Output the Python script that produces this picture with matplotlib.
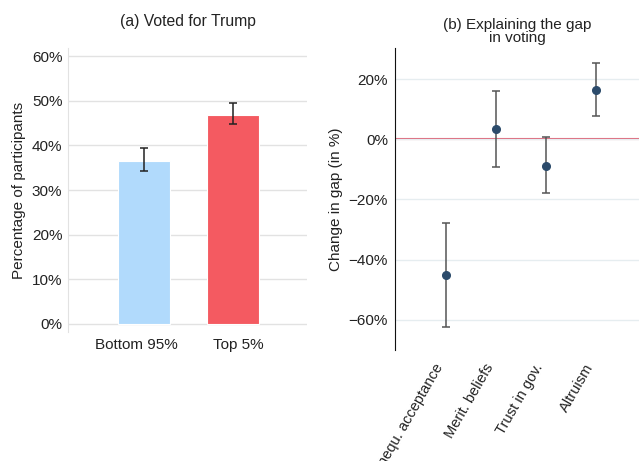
import matplotlib
matplotlib.use("Agg")
import matplotlib.pyplot as plt
from matplotlib.ticker import FuncFormatter

plt.rcParams['font.family'] = ['Liberation Sans', 'DejaVu Sans']
plt.rcParams['font.size'] = 10.5

# panel (a): share voting for Trump
groups = ["Bottom 95%", "Top 5%"]
vote_share = [36.6, 46.9]
vote_lo = [34.2, 44.8]
vote_hi = [39.4, 49.4]
bar_colors = ["#b1dafc", "#f45a61"]

# panel (b): change in gap when controlling for each factor
factors = ["Inequ. acceptance", "Merit. beliefs", "Trust in gov.", "Altruism"]
gap_change = [-45.0, 3.3, -8.8, 16.3]
gap_lo = [-62.3, -9.3, -18.0, 7.6]
gap_hi = [-27.7, 16.0, 0.8, 25.3]

pct = FuncFormatter(lambda v, _: f"{v:.0f}%".replace("-", "\u2212"))

fig = plt.figure(figsize=(6.39, 4.61), dpi=100)

ax1 = fig.add_axes([0.1064, 0.2798, 0.374, 0.6161])
xs = [0, 1]
yerr = [[v - l for v, l in zip(vote_share, vote_lo)],
        [h - v for v, h in zip(vote_share, vote_hi)]]
ax1.bar(xs, vote_share, width=0.585, color=bar_colors, edgecolor="white",
        linewidth=0.8, zorder=2)
ax1.errorbar(xs, vote_share, yerr=yerr, fmt="none", ecolor="#222222",
             elinewidth=1.1, capsize=3, capthick=1.1, zorder=3)
ax1.set_xlim(-0.852, 1.834)
ax1.set_ylim(-1.8, 61.8)
ax1.set_yticks([0, 10, 20, 30, 40, 50, 60])
ax1.yaxis.set_major_formatter(pct)
# labels sit slightly apart from the bar centres
ax1.set_xticks([-0.082, 1.064])
ax1.set_xticklabels(groups, fontsize=11)
ax1.tick_params(length=0, labelsize=11, colors="#222222", pad=4)
ax1.grid(axis="y", color="#e2e2e2", linewidth=1, zorder=0)
for s in ["top", "right", "bottom"]:
    ax1.spines[s].set_visible(False)
ax1.spines["left"].set_color("#e2e2e2")
ax1.set_ylabel("Percentage of participants", fontsize=11, color="#222222")
ax1.set_title("(a) Voted for Trump", fontsize=11.3, color="#222222", pad=16)

ax2 = fig.add_axes([0.618, 0.2408, 0.382, 0.6551])
xs2 = [1, 2, 3, 4]
yerr2 = [[v - l for v, l in zip(gap_change, gap_lo)],
         [h - v for v, h in zip(gap_change, gap_hi)]]
ax2.axhline(0, color="#dc5a6e", linewidth=1.5, zorder=1)
ax2.errorbar(xs2, gap_change, yerr=yerr2, fmt="o", color="#2c4b6b",
             markersize=5.5, ecolor="#555555", elinewidth=1.1, capsize=3,
             capthick=1.1, zorder=3)
ax2.set_xlim(-0.02, 4.86)
ax2.set_ylim(-70, 30.3)
ax2.set_yticks([20, 0, -20, -40, -60])
ax2.yaxis.set_major_formatter(pct)
ax2.set_xticks(xs2)
ax2.set_xticklabels(factors, rotation=60, ha="right", fontsize=10.5)
ax2.tick_params(length=0, labelsize=11, colors="#222222", pad=5)
ax2.tick_params(axis="x", labelsize=10.5, pad=8)
ax2.grid(axis="y", color="#e6edf0", linewidth=1, zorder=0)
for s in ["top", "right", "bottom"]:
    ax2.spines[s].set_visible(False)
ax2.spines["left"].set_color("#111111")
ax2.set_ylabel("Change in gap (in %)", fontsize=11, color="#222222")
ax2.set_title("(b) Explaining the gap\nin voting", fontsize=11,
              color="#222222", pad=4, linespacing=0.95)

fig.savefig("out.png", dpi=100)
